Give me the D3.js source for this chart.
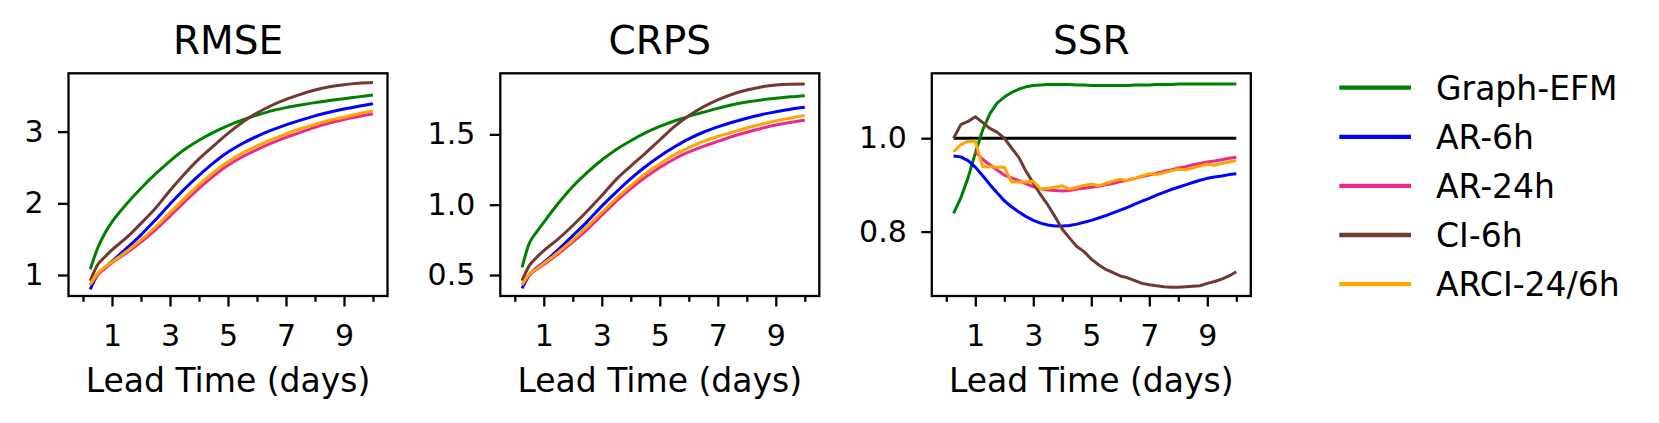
<!DOCTYPE html>
<html>
<head>
<meta charset="utf-8">
<script src="https://cdn.jsdelivr.net/npm/d3@7"></script>
<style>
  body { margin: 0; background: #fff; }
  text { font-family: 'DejaVu Sans', sans-serif; fill: #000; }
</style>
</head>
<body>
<svg width="1659" height="423"></svg>
<script>
// Models and colours
const models = ['Graph-EFM', 'AR-6h', 'AR-24h', 'CI-6h', 'ARCI-24/6h'];
const colors = ['#008000', '#0000ff', '#f0288c', '#703a33', '#ffa500'];

// Lead times (days) for RMSE / CRPS
const leadDays = [0.25, 0.5, 0.75, 1, 1.5, 2, 2.5, 3, 3.5, 4, 4.5, 5, 5.5, 6, 6.5, 7, 7.5, 8, 8.5, 9, 9.5, 10];

const rmseGraphEFM = [1.08, 1.37, 1.58, 1.74, 1.99, 2.21, 2.41, 2.59, 2.75, 2.88, 2.99, 3.085, 3.165, 3.23, 3.29, 3.335, 3.372, 3.405, 3.435, 3.46, 3.485, 3.51];
const rmseAR6 = [0.8, 1.0, 1.1, 1.19, 1.37, 1.56, 1.77, 1.99, 2.2, 2.39, 2.565, 2.715, 2.835, 2.935, 3.02, 3.095, 3.16, 3.22, 3.27, 3.315, 3.355, 3.39];
const rmseAR24 = [0.86, 1.0, 1.09, 1.17, 1.31, 1.46, 1.63, 1.82, 2.02, 2.21, 2.38, 2.53, 2.65, 2.75, 2.84, 2.92, 2.99, 3.06, 3.12, 3.17, 3.21, 3.25];
const rmseCI6 = [0.92, 1.14, 1.25, 1.35, 1.52, 1.72, 1.93, 2.18, 2.41, 2.62, 2.8, 2.975, 3.13, 3.26, 3.365, 3.45, 3.52, 3.58, 3.625, 3.655, 3.675, 3.685];
const rmseARCI = [0.87, 1.02, 1.11, 1.18, 1.33, 1.49, 1.67, 1.87, 2.07, 2.26, 2.43, 2.58, 2.7, 2.8, 2.89, 2.97, 3.04, 3.1, 3.16, 3.2, 3.25, 3.29];

const crpsGraphEFM = [0.555, 0.725, 0.805, 0.875, 1.01, 1.13, 1.23, 1.318, 1.393, 1.455, 1.51, 1.556, 1.595, 1.628, 1.657, 1.685, 1.71, 1.73, 1.745, 1.757, 1.767, 1.775];
const crpsAR6 = [0.405, 0.5, 0.55, 0.59, 0.68, 0.78, 0.88, 0.99, 1.09, 1.185, 1.27, 1.345, 1.41, 1.468, 1.515, 1.553, 1.586, 1.615, 1.64, 1.66, 1.678, 1.692];
const crpsAR24 = [0.43, 0.5, 0.54, 0.575, 0.65, 0.735, 0.825, 0.925, 1.025, 1.115, 1.195, 1.265, 1.325, 1.375, 1.415, 1.45, 1.485, 1.515, 1.542, 1.566, 1.585, 1.6];
const crpsCI6 = [0.46, 0.567, 0.625, 0.674, 0.757, 0.852, 0.955, 1.065, 1.18, 1.275, 1.365, 1.46, 1.555, 1.632, 1.695, 1.745, 1.785, 1.815, 1.837, 1.851, 1.857, 1.858];
const crpsARCI = [0.43, 0.507, 0.545, 0.583, 0.662, 0.75, 0.845, 0.945, 1.045, 1.135, 1.22, 1.29, 1.355, 1.405, 1.45, 1.485, 1.515, 1.545, 1.572, 1.596, 1.616, 1.635];

// SSR at every 6h step (AR-24h only from day 1)
const ssrDays = [0.25, 0.5, 0.75, 1, 1.25, 1.5, 1.75, 2, 2.25, 2.5, 2.75, 3, 3.25, 3.5, 3.75, 4, 4.25, 4.5, 4.75, 5,
  5.25, 5.5, 5.75, 6, 6.25, 6.5, 6.75, 7, 7.25, 7.5, 7.75, 8, 8.25, 8.5, 8.75, 9, 9.25, 9.5, 9.75, 10];
const ssrGraphEFM = [0.839, 0.872, 0.915, 0.968, 1.017, 1.052, 1.075, 1.088, 1.098, 1.105, 1.11, 1.113, 1.114, 1.115, 1.115, 1.115, 1.115, 1.114, 1.114, 1.113,
  1.113, 1.113, 1.113, 1.113, 1.113, 1.114, 1.114, 1.114, 1.115, 1.115, 1.115, 1.116, 1.116, 1.116, 1.116, 1.116, 1.116, 1.116, 1.116, 1.116];
const ssrAR6 = [0.962, 0.96, 0.952, 0.938, 0.92, 0.901, 0.883, 0.866, 0.853, 0.842, 0.832, 0.824, 0.818, 0.814, 0.812, 0.812, 0.813, 0.816, 0.82, 0.824,
  0.829, 0.834, 0.84, 0.846, 0.852, 0.859, 0.865, 0.871, 0.878, 0.884, 0.89, 0.895, 0.9, 0.905, 0.91, 0.914, 0.917, 0.919, 0.922, 0.924];
const ssrAR24 = [null, null, null, 0.971, 0.955, 0.943, 0.932, 0.921, 0.915, 0.909, 0.902, 0.896, 0.892, 0.889, 0.888, 0.887, 0.888, 0.891, 0.893, 0.895,
  0.897, 0.9, 0.903, 0.907, 0.91, 0.914, 0.918, 0.921, 0.925, 0.929, 0.932, 0.936, 0.939, 0.943, 0.946, 0.949, 0.951, 0.954, 0.957, 0.959];
const ssrCI6 = [1.0, 1.029, 1.036, 1.046, 1.034, 1.021, 1.013, 1.0, 0.979, 0.959, 0.929, 0.904, 0.879, 0.857, 0.832, 0.805, 0.786, 0.768, 0.757, 0.741,
  0.729, 0.719, 0.712, 0.705, 0.701, 0.695, 0.689, 0.686, 0.684, 0.682, 0.681, 0.681, 0.682, 0.683, 0.684, 0.689, 0.693, 0.698, 0.705, 0.714];
const ssrARCI = [0.971, 0.986, 0.993, 0.994, 0.939, 0.939, 0.938, 0.938, 0.906, 0.906, 0.906, 0.908, 0.891, 0.893, 0.895, 0.898, 0.891, 0.895, 0.899, 0.902,
  0.898, 0.903, 0.908, 0.912, 0.909, 0.914, 0.919, 0.924, 0.922, 0.926, 0.93, 0.934, 0.932, 0.936, 0.941, 0.944, 0.942, 0.946, 0.949, 0.952];
const ssrRefDays = [0.25, 10];
const ssrRef = [1, 1];

// Ticks
const xMajorTicks = [1, 3, 5, 7, 9];
const xMinorTicks = [0, 2, 4, 6, 8, 10];
const rmseTicks = [1, 2, 3];
const crpsTicks = [0.5, 1.0, 1.5];
const ssrTicks = [0.8, 1.0];

const svg = d3.select('svg');
const plotTop = 73.3, plotBottom = 296;

const panels = [
  { title: 'RMSE', left: 68.5, right: 387.5, yDomain: [0.707, 3.814], ticks: rmseTicks, fmt: d3.format('d'),
    x: leadDays, series: [rmseGraphEFM, rmseAR6, rmseAR24, rmseCI6, rmseARCI], curve: d3.curveMonotoneX },
  { title: 'CRPS', left: 500.3, right: 819.3, yDomain: [0.351, 1.934], ticks: crpsTicks, fmt: d3.format('.1f'),
    x: leadDays, series: [crpsGraphEFM, crpsAR6, crpsAR24, crpsCI6, crpsARCI], curve: d3.curveMonotoneX },
  { title: 'SSR', left: 931.8, right: 1250.8, yDomain: [0.662, 1.139], ticks: ssrTicks, fmt: d3.format('.1f'),
    x: ssrDays, series: [ssrGraphEFM, ssrAR6, ssrAR24, ssrCI6, ssrARCI], curve: d3.curveLinear, ref: true },
];

panels.forEach(function (p) {
  const x = d3.scaleLinear().domain([-0.5, 10.5]).range([p.left, p.right]);
  const y = d3.scaleLinear().domain(p.yDomain).range([plotBottom, plotTop]);
  const g = svg.append('g');
  const cx = (p.left + p.right) / 2;

  // reference line for SSR
  if (p.ref) {
    g.append('path')
      .datum(ssrRefDays.map((d, i) => [d, ssrRef[i]]))
      .attr('d', d3.line().x(d => x(d[0])).y(d => y(d[1])))
      .attr('fill', 'none')
      .attr('stroke', '#000')
      .attr('stroke-width', 3);
  }

  // model lines
  p.series.forEach(function (vals, k) {
    const line = d3.line()
      .defined(d => d[1] != null)
      .x(d => x(d[0]))
      .y(d => y(d[1]))
      .curve(p.curve);
    g.append('path')
      .datum(p.x.map((d, i) => [d, vals[i]]))
      .attr('d', line)
      .attr('fill', 'none')
      .attr('stroke', colors[k])
      .attr('stroke-width', 3)
      .attr('stroke-linejoin', 'round');
  });

  // x axis: minor then major
  const gxMinor = g.append('g').attr('transform', `translate(0,${plotBottom})`)
    .call(d3.axisBottom(x).tickValues(xMinorTicks).tickSize(5.8).tickFormat(''));
  const gx = g.append('g').attr('transform', `translate(0,${plotBottom})`)
    .call(d3.axisBottom(x).tickValues(xMajorTicks).tickSize(10.5).tickPadding(18.5).tickFormat(d3.format('d')));
  const gy = g.append('g').attr('transform', `translate(${p.left},0)`)
    .call(d3.axisLeft(y).tickValues(p.ticks).tickSize(10.5).tickPadding(14.5).tickFormat(p.fmt));
  [gxMinor, gx, gy].forEach(function (a) {
    a.select('.domain').remove();
    a.selectAll('line').attr('stroke', '#000').attr('stroke-width', 2.3);
    a.selectAll('text').style('font-size', '30px').style('font-family', "'DejaVu Sans', sans-serif").attr('fill', '#000');
  });

  // frame
  g.append('rect')
    .attr('x', p.left)
    .attr('y', plotTop)
    .attr('width', p.right - p.left)
    .attr('height', plotBottom - plotTop)
    .attr('fill', 'none')
    .attr('stroke', '#000')
    .attr('stroke-width', 2.3);

  g.append('text')
    .attr('x', cx)
    .attr('y', 54.3)
    .attr('text-anchor', 'middle')
    .style('font-size', '39px')
    .text(p.title);

  g.append('text')
    .attr('x', cx)
    .attr('y', 391.7)
    .attr('text-anchor', 'middle')
    .style('font-size', '33px')
    .text('Lead Time (days)');
});

// Legend
const legend = svg.append('g');
models.forEach(function (m, i) {
  const ly = 87.7 + i * 49.1;
  legend.append('line')
    .attr('x1', 1339.3)
    .attr('x2', 1411)
    .attr('y1', ly)
    .attr('y2', ly)
    .attr('stroke', colors[i])
    .attr('stroke-width', 4.3);
  legend.append('text')
    .attr('x', 1436)
    .attr('y', ly + 12.2)
    .style('font-size', '33px')
    .text(m);
});
</script>
</body>
</html>
